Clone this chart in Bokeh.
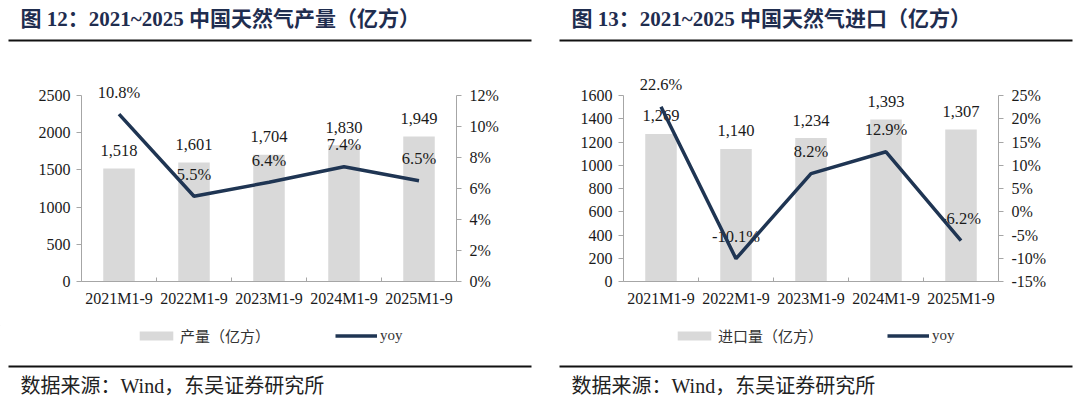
from bokeh.plotting import figure
from bokeh.layouts import column, row, Spacer
from bokeh.models import (Range1d, LinearAxis, FixedTicker, PrintfTickFormatter,
                          CustomJSTickFormatter, Legend, LegendItem, ColumnDataSource)
from bokeh.core.properties import value
from bokeh.embed import file_html
from bokeh.resources import INLINE

# ---------------- data ----------------
categories = ["2021M1-9", "2022M1-9", "2023M1-9", "2024M1-9", "2025M1-9"]

prod_values = [1518, 1601, 1704, 1830, 1949]
prod_yoy = [10.8, 5.5, 6.4, 7.4, 6.5]
prod_left_ticks = [0, 500, 1000, 1500, 2000, 2500]
prod_right_ticks = [0, 2, 4, 6, 8, 10, 12]

import_values = [1269, 1140, 1234, 1393, 1307]
import_yoy = [22.6, -10.1, 8.2, 12.9, -6.2]
import_left_ticks = [0, 200, 400, 600, 800, 1000, 1200, 1400, 1600]
import_right_ticks = [-15, -10, -5, 0, 5, 10, 15, 20, 25]

titles = ["图 12：2021~2025 中国天然气产量（亿方）", "图 13：2021~2025 中国天然气进口（亿方）"]
legend_bar_labels = ["产量（亿方）", "进口量（亿方）"]
legend_line = "yoy"
source_text = "数据来源：Wind，东吴证券研究所"

# ---------------- styles / layout ----------------
SERIF_S = "Liberation Serif"
MIX_S = "Liberation Serif, Noto Sans CJK SC"
SERIF = value(SERIF_S)
MIX = value(MIX_S)
BAR_COLOR = "#d9d9d9"
LINE_COLOR = "#1f3553"
AXIS_COLOR = "#a6a6a6"
TEXT_COLOR = "#1a1a1a"
TITLE_COLOR = "#1f2d4f"

PAGE_W = 1080
HEADER_H = 58
CHART_H = 267
FOOTER_H = 80
LW, RW, GAP, MARGIN = 523, 513, 28, 8
PANEL_X = [MARGIN, MARGIN + LW + GAP]
PANEL_W = [LW, RW]
TOP_B = 17        # border above frame (frame extended above top tick for labels)
BOT_B = 44
FRAME_PX = 206    # frame height
AXIS_PX = 186     # height covered by the axis
EXT = FRAME_PX / AXIS_PX
LEGEND_X = [135, 673]
LEGEND_SPACING = [65, 64]
OFF = -10 * PAGE_W   # legend-key proxies sit far outside the footer's visible range


def header():
    p = figure(width=PAGE_W, height=HEADER_H, x_range=Range1d(0, PAGE_W),
               y_range=Range1d(HEADER_H, 0), x_axis_type=None, y_axis_type=None,
               toolbar_location=None, output_backend="svg", min_border=0,
               outline_line_color=None)
    p.text(x=[px + 12 for px in PANEL_X], y=[18, 18], text=titles, text_baseline="middle",
           text_align="left", text_font=MIX, text_font_size="21px", text_font_style="bold",
           text_color=TITLE_COLOR)
    p.segment(x0=PANEL_X, y0=[40, 40], x1=[px + w for px, w in zip(PANEL_X, PANEL_W)],
              y1=[40, 40], line_width=2, line_color="#111111")
    return p


def footer():
    top = HEADER_H + CHART_H
    bottom = top + FOOTER_H
    p = figure(width=PAGE_W, height=FOOTER_H, x_range=Range1d(0, PAGE_W),
               y_range=Range1d(bottom, top), x_axis_type=None, y_axis_type=None,
               toolbar_location=None, output_backend="svg", min_border=0,
               outline_line_color=None)
    p.segment(x0=PANEL_X, y0=[366, 366], x1=[px + w for px, w in zip(PANEL_X, PANEL_W)],
              y1=[366, 366], line_width=2, line_color="#111111")
    p.text(x=[px + 12 for px in PANEL_X], y=[385, 385], text=[source_text, source_text],
           text_baseline="middle", text_align="left", text_font=MIX, text_font_size="20px",
           text_color="#222222")
    # legend keys (same styles as the chart series; proxies drawn off-canvas)
    for lab, lx, sp in zip(legend_bar_labels, LEGEND_X, LEGEND_SPACING):
        kb = p.vbar(x=[OFF], top=[OFF + 1], bottom=OFF, width=1,
                    fill_color=BAR_COLOR, line_color=None)
        kl = p.line(x=[OFF, OFF + 1], y=[OFF, OFF], line_width=3.5, line_color=LINE_COLOR)
        leg = Legend(items=[LegendItem(label=lab, renderers=[kb]),
                            LegendItem(label=legend_line, renderers=[kl])],
                     orientation="horizontal", location=(lx, bottom - 346),
                     glyph_width=42, glyph_height=11, label_height=18, label_standoff=3,
                     spacing=sp, padding=0, margin=0,
                     border_line_color=None, background_fill_alpha=0,
                     label_text_font=MIX_S, label_text_font_size="15px",
                     label_text_color="#333333")
        p.add_layout(leg, "center")
    return p


def style_axis(ax, standoff):
    ax.axis_line_color = AXIS_COLOR
    ax.major_label_standoff = standoff
    ax.major_label_text_font = SERIF_S
    ax.major_label_text_font_size = "16px"
    ax.major_label_text_color = TEXT_COLOR


def chart(width, bl, br, vals, yoy, lticks, rticks):
    n = len(categories)
    xs = [i + 0.5 for i in range(n)]
    src = ColumnDataSource(dict(
        x=xs, v=vals, yoy=yoy,
        vlab=[f"{v:,}" for v in vals],
        ylab=[f"{y:.1f}%" for y in yoy],
    ))
    l0, l1 = lticks[0], lticks[-1]
    r0, r1 = rticks[0], rticks[-1]
    p = figure(width=width, height=CHART_H, x_range=Range1d(0, n),
               y_range=Range1d(l0, l0 + (l1 - l0) * EXT),
               toolbar_location=None, output_backend="svg",
               min_border_left=bl, min_border_right=br, min_border_top=TOP_B,
               min_border_bottom=BOT_B, outline_line_color=None)
    p.grid.visible = False
    p.extra_y_ranges = {"pct": Range1d(r0, r0 + (r1 - r0) * EXT)}

    # bottom axis
    xa = p.xaxis[0]
    xa.ticker = FixedTicker(ticks=xs, minor_ticks=list(range(n + 1)))
    xa.formatter = CustomJSTickFormatter(args=dict(cats=categories),
                                         code="return cats[Math.floor(tick)];")
    xa.major_tick_line_color = None
    xa.major_tick_out = 0
    xa.major_tick_in = 0
    xa.minor_tick_in = 4
    xa.minor_tick_out = 0
    xa.minor_tick_line_color = AXIS_COLOR
    style_axis(xa, 8)

    # left axis
    ya = p.yaxis[0]
    ya.ticker = FixedTicker(ticks=lticks)
    ya.bounds = (l0, l1)
    ya.minor_tick_line_color = None
    ya.major_tick_out = 5
    ya.major_tick_in = 0
    ya.major_tick_line_color = AXIS_COLOR
    style_axis(ya, 6)

    # right axis
    ra = LinearAxis(y_range_name="pct", ticker=FixedTicker(ticks=rticks),
                    formatter=PrintfTickFormatter(format="%d%%"), bounds=(r0, r1))
    ra.minor_tick_line_color = None
    ra.major_tick_out = 5
    ra.major_tick_in = 0
    ra.major_tick_line_color = AXIS_COLOR
    style_axis(ra, 8)
    p.add_layout(ra, "right")

    p.vbar(x="x", top="v", bottom=0, width=0.42, source=src,
           fill_color=BAR_COLOR, line_color=None)
    p.text(x="x", y="v", text="vlab", source=src, text_align="center", text_baseline="middle",
           y_offset=-18, text_font=SERIF, text_font_size="16.5px", text_color=TEXT_COLOR)
    p.text(x="x", y="yoy", text="ylab", source=src, y_range_name="pct", text_align="center",
           text_baseline="middle", y_offset=-22, text_font=SERIF, text_font_size="16.5px",
           text_color=TEXT_COLOR)
    p.line(x="x", y="yoy", source=src, y_range_name="pct", line_width=3.5,
           line_color=LINE_COLOR)
    return p


chart_l = chart(LW, 73, 75, prod_values, prod_yoy, prod_left_ticks, prod_right_ticks)
chart_r = chart(RW, 64, 74, import_values, import_yoy, import_left_ticks, import_right_ticks)

page = column(header(),
              row(Spacer(width=MARGIN, height=CHART_H), chart_l, Spacer(width=GAP, height=CHART_H),
                  chart_r),
              footer())

open("out.html", "w").write(file_html(page, INLINE))
